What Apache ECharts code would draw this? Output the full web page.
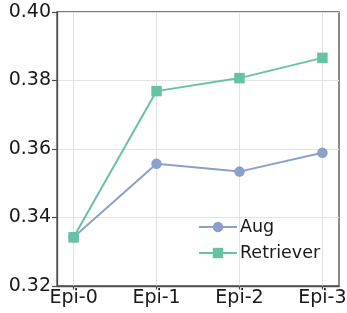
<!DOCTYPE html>
<html><head><meta charset="utf-8">
<script src="https://cdn.jsdelivr.net/npm/echarts@6/dist/echarts.min.js"></script>
<style>html,body{margin:0;padding:0;background:#fff}#c{width:347px;height:313px}</style>
</head><body><div id="c"></div>
<script>
const categories = ['Epi-0', 'Epi-1', 'Epi-2', 'Epi-3'];
const augValues = [0.3342, 0.3557, 0.3534, 0.3589];
const retrieverValues = [0.3342, 0.3769, 0.3807, 0.3866];
const yTicks = [0.32, 0.34, 0.36, 0.38, 0.40];

const chart = echarts.init(document.getElementById('c'), null, {renderer: 'canvas'});
const font = 'DejaVu Sans';
const toPts = vals => vals.map((v, i) => [i, v]);
chart.setOption({
  animation: false,
  grid: {left: 57, right: 8, top: 12, bottom: 27, show: true, borderColor: '#4d4d4d', borderWidth: 1.3,
         backgroundColor: 'transparent', containLabel: false, outerBoundsMode: 'none'},
  xAxis: {
    type: 'value', min: -0.2, max: 3.2,
    axisLine: {show: true, onZero: false, lineStyle: {color: '#4d4d4d', width: 1.3}},
    axisTick: {show: true, customValues: [0, 1, 2, 3], length: 3.5, lineStyle: {color: '#4d4d4d', width: 1.2}},
    axisLabel: {customValues: [0, 1, 2, 3], formatter: v => categories[Math.round(v)], color: '#1a1a1a', fontFamily: font, fontSize: 19, margin: 3},
    splitLine: {show: true, lineStyle: {color: '#e3e3e3', width: 1}}
  },
  yAxis: {
    type: 'value', min: 0.32, max: 0.40, interval: 0.02,
    axisLine: {show: true, onZero: false, lineStyle: {color: '#4d4d4d', width: 1.3}},
    axisTick: {show: true, length: 5, lineStyle: {color: '#4d4d4d', width: 1.2}},
    axisLabel: {formatter: v => v.toFixed(2), color: '#1a1a1a', fontFamily: font, fontSize: 19, margin: 6},
    splitLine: {show: true, lineStyle: {color: '#e3e3e3', width: 1}}
  },
  legend: {
    orient: 'vertical', left: 193, top: 213, itemWidth: 38, itemHeight: 13, itemGap: 8,
    textStyle: {fontFamily: font, fontSize: 17.5, color: '#1a1a1a', padding: [0, 0, 0, -2]},
    data: ['Aug', 'Retriever']
  },
  series: [
    {name: 'Aug', type: 'line', data: toPts(augValues), symbol: 'circle', symbolSize: 10.5,
     itemStyle: {color: '#8da0cb'}, lineStyle: {color: '#8da0cb', width: 2}},
    {name: 'Retriever', type: 'line', data: toPts(retrieverValues), symbol: 'rect', symbolSize: 10.5,
     itemStyle: {color: '#66c2a5'}, lineStyle: {color: '#66c2a5', width: 2}}
  ]
});
</script></body></html>
